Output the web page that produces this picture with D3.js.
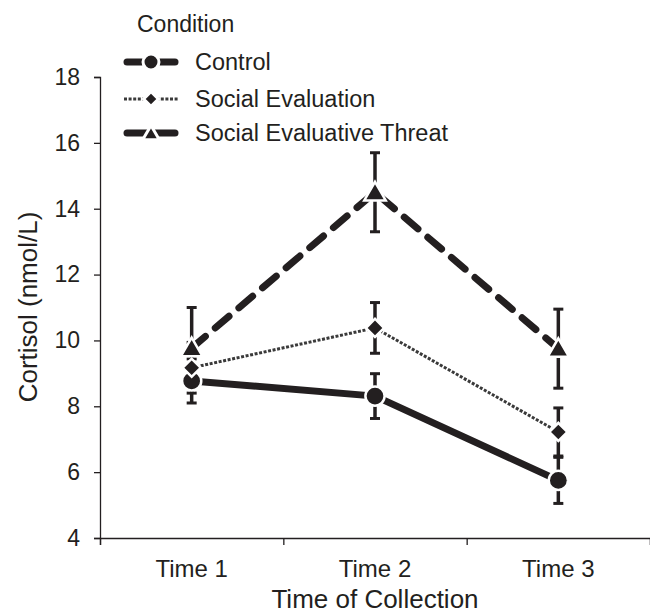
<!DOCTYPE html>
<html>
<head>
<meta charset="utf-8">
<script src="https://cdn.jsdelivr.net/npm/d3@7"></script>
<style>
body{margin:0;background:#fff}
text{font-family:"Liberation Sans",Arial,sans-serif;fill:#231f20}
</style>
</head>
<body>
<div id="chart"></div>
<script>

const times = ["Time 1","Time 2","Time 3"]
const yTicks = [4,6,8,10,12,14,16,18]

const control = [8.77, 8.31, 5.75]
const controlSE = [0.67, 0.68, 0.70]

const socialEval = [9.17, 10.38, 7.22]
const socialEvalSE = [0.77, 0.77, 0.73]

const threat = [9.77, 14.5, 9.75]
const threatSE = [1.23, 1.20, 1.20]

const seriesNames = ["Control","Social Evaluation","Social Evaluative Threat"]

const width = 650
const height = 616
const plotLeft = 100, plotRight = 650, plotTop = 77, plotBottom = 538

const svg = d3.select("#chart")
.append("svg")
.attr("width",width)
.attr("height",height)

const x = d3.scaleBand().domain(times).range([plotLeft,plotRight])
const y = d3.scaleLinear().domain([4,18]).range([plotBottom,plotTop])

const ink = "#231f20"

// y axis
const yAxis = svg.append("g")
.attr("transform",`translate(${plotLeft},0)`)
.call(d3.axisLeft(y).tickValues(yTicks).tickSize(6).tickPadding(14).tickFormat(d3.format("d")))
yAxis.select(".domain").attr("stroke",ink).attr("stroke-width",1.3)
yAxis.selectAll(".tick line").attr("stroke",ink).attr("stroke-width",1.3)
yAxis.selectAll(".tick text").attr("font-size","23px").attr("fill",ink).style("font-family","Liberation Sans, Arial, sans-serif")

// x axis: ticks at band edges, labels centered
const xEdge = d3.scaleLinear().domain([0,3]).range([plotLeft,plotRight])
const xAxis = svg.append("g")
.attr("transform",`translate(0,${plotBottom})`)
.call(d3.axisBottom(xEdge).tickValues([0,1,2,3]).tickSize(7).tickFormat(""))
xAxis.select(".domain").attr("stroke",ink).attr("stroke-width",1.3)
xAxis.selectAll(".tick line").attr("stroke",ink).attr("stroke-width",1.3)

svg.append("g")
.selectAll("text")
.data(times)
.enter()
.append("text")
.attr("x",d=>x(d)+x.bandwidth()/2)
.attr("y",577)
.attr("text-anchor","middle")
.attr("font-size","24px")
.text(d=>d)

svg.append("text")
.attr("x",375)
.attr("y",608)
.attr("text-anchor","middle")
.attr("font-size","26px")
.text("Time of Collection")

svg.append("text")
.attr("transform","translate(37,307) rotate(-90)")
.attr("text-anchor","middle")
.attr("font-size","26px")
.text("Cortisol (nmol/L)")

const cx = d=>x(d)+x.bandwidth()/2

const series = [
{name:seriesNames[0], values:control, se:controlSE, dash:null, w:7, sym:d3.symbolCircle, size:290, rot:0, dy:0},
{name:seriesNames[1], values:socialEval, se:socialEvalSE, dash:"3,1.6", w:3, sym:d3.symbolSquare, size:165, rot:45, dy:0},
{name:seriesNames[2], values:threat, se:threatSE, dash:"18,13", w:7, sym:d3.symbolTriangle, size:200, rot:0, dy:2}
]

const line = d3.line()
.x((d,i)=>cx(times[i]))
.y(d=>y(d))

// lines
svg.selectAll(".series-line")
.data(series)
.enter()
.append("path")
.attr("class","series-line")
.attr("d",d=>line(d.values))
.attr("fill","none")
.attr("stroke",d=>d.w<5 ? "#3a3a3a" : ink)
.attr("stroke-width",d=>d.w)
.attr("stroke-dasharray",d=>d.dash)
.attr("stroke-linecap",d=>d.dash && d.w>5 ? "round" : "butt")

// error bars
series.forEach(s=>{
const g = svg.append("g")
s.values.forEach((v,i)=>{
const px = cx(times[i])
g.append("line")
.attr("x1",px).attr("x2",px)
.attr("y1",y(v-s.se[i])).attr("y2",y(v+s.se[i]))
.attr("stroke",ink).attr("stroke-width",3.5)
;[v-s.se[i], v+s.se[i]].forEach(e=>{
g.append("line")
.attr("x1",px-5).attr("x2",px+5)
.attr("y1",y(e)).attr("y2",y(e))
.attr("stroke",ink).attr("stroke-width",3)
})
})
})

// markers
series.forEach(s=>{
svg.append("g")
.selectAll("path")
.data(s.values)
.enter()
.append("path")
.attr("transform",(d,i)=>`translate(${cx(times[i])},${y(d) + s.dy}) rotate(${s.rot})`)
.attr("d",d3.symbol().type(s.sym).size(s.size))
.attr("fill",ink)
.attr("stroke","#fff")
.attr("stroke-width",2.5)
})

// legend
svg.append("text")
.attr("x",137)
.attr("y",32)
.attr("font-size","23px")
.text("Condition")

const legendY = [62,99,133]
const leg = svg.selectAll(".leg")
.data(series)
.enter()
.append("g")
.attr("class","leg")
.attr("transform",(d,i)=>`translate(0,${legendY[i]})`)

leg.append("line")
.attr("x1",d=>d.w<5 ? 124 : 127).attr("x2",d=>d.w<5 ? 178 : 175)
.attr("y1",0).attr("y2",0)
.attr("stroke",d=>d.w<5 ? "#3a3a3a" : ink)
.attr("stroke-width",d=>d.w)
.attr("stroke-dasharray",d=>d.dash && d.w<5 ? d.dash : null)
.attr("stroke-linecap",d=>d.w<5 ? "butt" : "round")

leg.append("path")
.attr("transform",d=>`translate(151,${d.dy}) rotate(${d.rot})`)
.attr("d",d=>d3.symbol().type(d.sym).size(d.sym===d3.symbolCircle?200:d.sym===d3.symbolSquare?110:120)())
.attr("fill",ink)
.attr("stroke","#fff")
.attr("stroke-width",3)

leg.append("text")
.attr("x",195)
.attr("y",8)
.attr("font-size","23.5px")
.text(d=>d.name)

</script>
</body>
</html>
